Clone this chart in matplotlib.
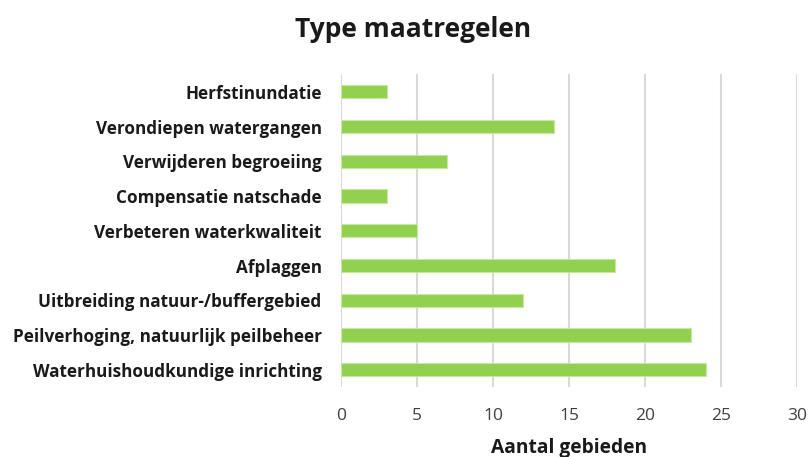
import matplotlib.pyplot as plt

categorieen = [
    "Herfstinundatie",
    "Verondiepen watergangen",
    "Verwijderen begroeiing",
    "Compensatie natschade",
    "Verbeteren waterkwaliteit",
    "Afplaggen",
    "Uitbreiding natuur-/buffergebied",
    "Peilverhoging, natuurlijk peilbeheer",
    "Waterhuishoudkundige inrichting",
]
aantal = [3, 14, 7, 3, 5, 18, 12, 23, 24]
x_ticks = [0, 5, 10, 15, 20, 25, 30]

plt.rcParams['font.family'] = ['Open Sans', 'DejaVu Sans']

fig = plt.figure(figsize=(8.08, 4.57), dpi=100)
ax = fig.add_axes([0.422, 0.153, 0.5644, 0.684])

pos = list(range(len(categorieen)))
ax.barh(pos, aantal, height=0.38, color="#92D050", edgecolor="#c6e8a0", linewidth=0.8, zorder=3)
ax.set_ylim(len(categorieen) - 0.5, -0.5)
ax.set_xlim(0, 30)
ax.set_xticks(x_ticks)
ax.set_yticks(pos)
ax.set_yticklabels(categorieen, fontsize=12.3, fontweight="bold", color="#1a1a1a")
ax.tick_params(axis="y", length=0, pad=14)
ax.tick_params(axis="x", length=0, pad=15, labelsize=12.5, labelcolor="#404040")

ax.grid(axis="x", color="#d9d9d9", linewidth=1.5, zorder=0)
for s in ax.spines.values():
    s.set_visible(False)

ax.set_xlabel("Aantal gebieden", fontsize=13.8, fontweight="bold", color="#1a1a1a", labelpad=10)
fig.text(0.511, 0.935, "Type maatregelen", fontsize=19, fontweight="bold", ha="center", va="center", color="#1a1a1a")

fig.savefig("out.png", dpi=100)
